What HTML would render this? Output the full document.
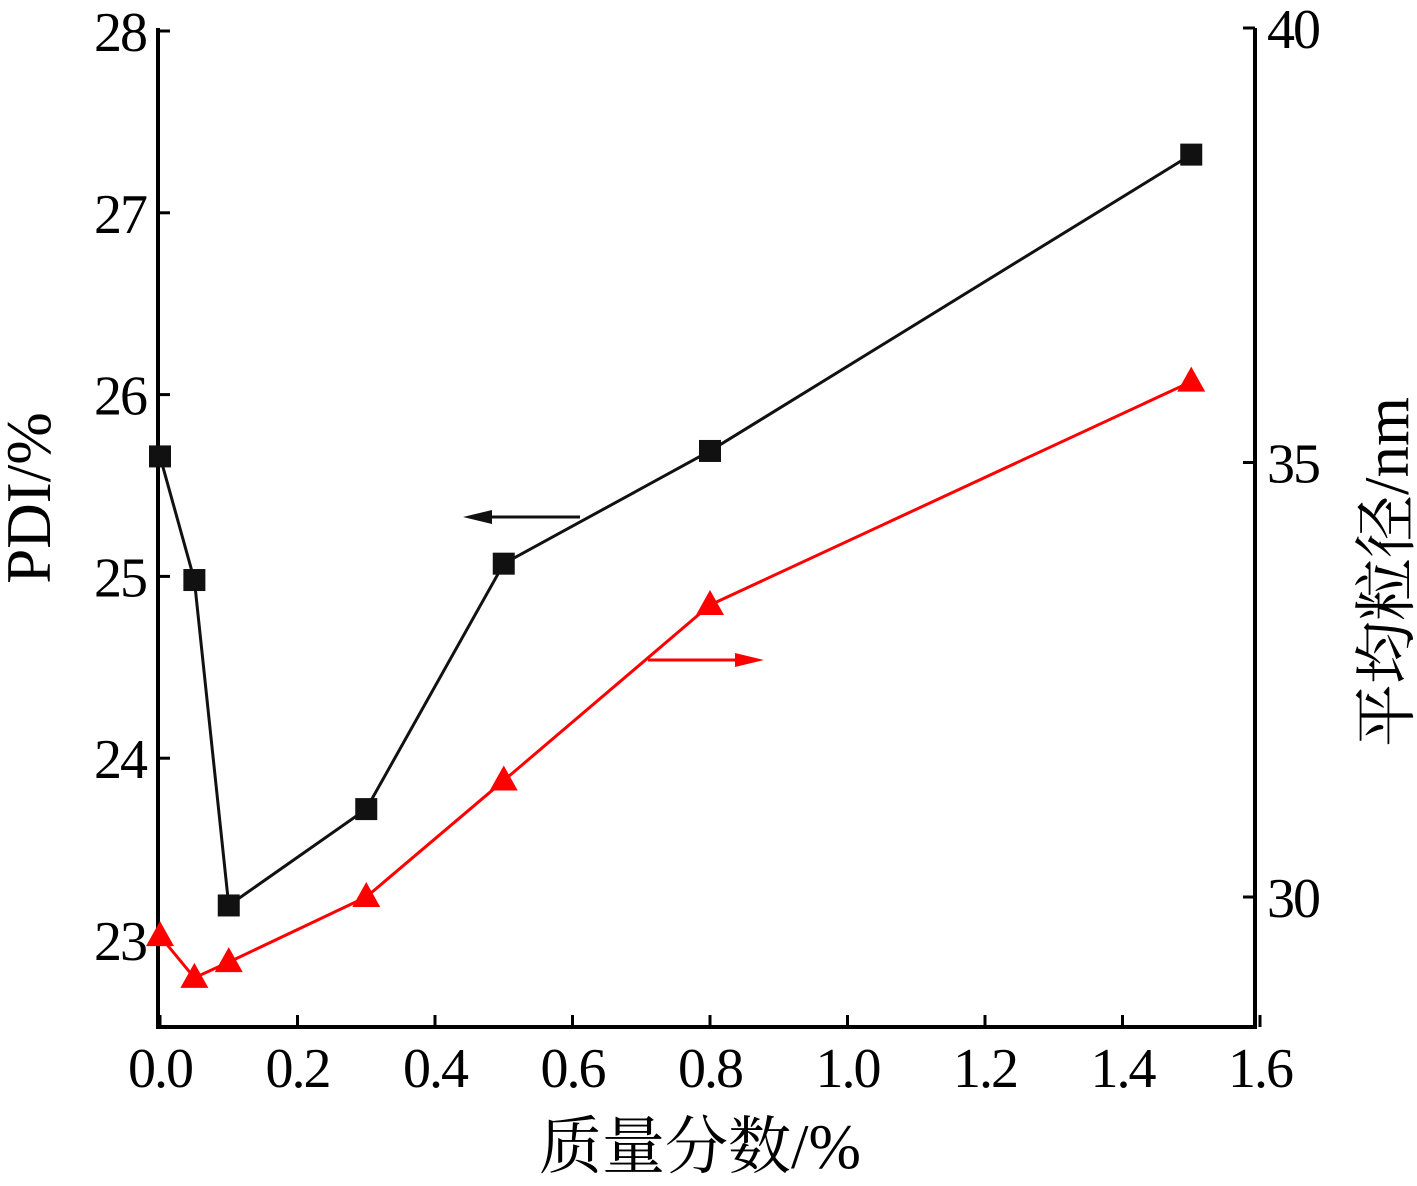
<!DOCTYPE html>
<html><head><meta charset="utf-8"><style>
html,body{margin:0;padding:0;background:#fff;}
svg text{font-family:"Liberation Serif","Noto Serif CJK SC",serif;}
</style></head><body>
<svg id="chart" width="1417" height="1181" viewBox="0 0 1417 1181" xmlns="http://www.w3.org/2000/svg">
<g id="axes"></g>
<g id="marks"></g>
</svg>
<script>
const xValues=[0,0.05,0.1,0.3,0.5,0.8,1.5];
const pdiValues=[25.66,24.98,23.19,23.72,25.07,25.69,27.32];
const sizeValues=[29.55,29.07,29.25,30.0,31.34,33.36,35.93];
const xTicks=[0,0.2,0.4,0.6,0.8,1.0,1.2,1.4,1.6];
const xTickLabels=["0.0","0.2","0.4","0.6","0.8","1.0","1.2","1.4","1.6"];
const leftTicks=[23,24,25,26,27,28];
const rightTicks=[30,35,40];

const NS="http://www.w3.org/2000/svg";
const X0=158,X1=1255,YB=1027,YT=28;
const xs=v=>160+v*687.5;
const yl=v=>940-(v-23)*181.8;
const yr=v=>897-(v-30)*86.9;
const axes=document.getElementById('axes'),marks=document.getElementById('marks');
function mk(tag,attrs,parent,text){const e=document.createElementNS(NS,tag);for(const k in attrs)e.setAttribute(k,attrs[k]);if(text!==undefined)e.textContent=text;parent.appendChild(e);return e;}

let e;
e=mk('path',{d:`M${X0},${YT}V${YB}H${X1}V${YT}`,fill:'none',stroke:'#000','stroke-width':4},axes);


xTicks.forEach((t,i)=>{
  const x=xs(t);
  e=mk('line',{x1:x,x2:x,y1:YB,y2:YB-12,stroke:'#000','stroke-width':3},axes);
  
  
  e=mk('text',{x:x,y:YB+60,'font-size':56,'letter-spacing':-2,'text-anchor':'middle'},axes,xTickLabels[i]);
  
  
});
leftTicks.forEach(t=>{
  const y=yl(t);
  e=mk('line',{x1:X0,x2:X0+12,y1:y,y2:y,stroke:'#000','stroke-width':3},axes);
  
  
  e=mk('text',{x:X0-12,y:y+20,'font-size':56,'letter-spacing':-2,'text-anchor':'end'},axes,String(t));
  
  
});
rightTicks.forEach(t=>{
  const y=yr(t);
  e=mk('line',{x1:X1,x2:X1-12,y1:y,y2:y,stroke:'#000','stroke-width':3},axes);
  
  
  e=mk('text',{x:X1+12,y:y+20,'font-size':56,'letter-spacing':-2,'text-anchor':'start'},axes,String(t));
  
  
});
e=mk('text',{x:700,y:1168,'font-size':63,'text-anchor':'middle'},axes,'质量分数/%');


e=mk('text',{x:0,y:0,'font-size':63,'text-anchor':'middle',transform:'translate(50,498) rotate(-90)'},axes,'PDI/%');


e=mk('text',{x:0,y:0,'font-size':63,'text-anchor':'middle',transform:'translate(1408,572) rotate(-90)'},axes,'平均粒径/nm');



e=mk('polyline',{points:xValues.map((v,i)=>xs(v)+','+yl(pdiValues[i])).join(' '),fill:'none',stroke:'#111','stroke-width':3},marks);


xValues.forEach((v,i)=>{
  e=mk('rect',{x:xs(v)-11,y:yl(pdiValues[i])-11,width:22,height:22,fill:'#111'},marks);
  
  
});
e=mk('polyline',{points:xValues.map((v,i)=>xs(v)+','+yr(sizeValues[i])).join(' '),fill:'none',stroke:'#f00','stroke-width':3},marks);


xValues.forEach((v,i)=>{
  const x=xs(v),y=yr(sizeValues[i]);
  e=mk('polygon',{points:`${x},${y-15} ${x-14},${y+10} ${x+14},${y+10}`,fill:'#f00'},marks);
  
  
});
e=mk('g',{},marks);


mk('line',{x1:580,x2:485,y1:517,y2:517,stroke:'#111','stroke-width':3},e);
mk('polygon',{points:'463,517 492,510 492,524',fill:'#111'},e);
e=mk('g',{},marks);


mk('line',{x1:648,x2:742,y1:660,y2:660,stroke:'#f00','stroke-width':3},e);
mk('polygon',{points:'764,660 735,653 735,667',fill:'#f00'},e);
</script>
</body></html>
